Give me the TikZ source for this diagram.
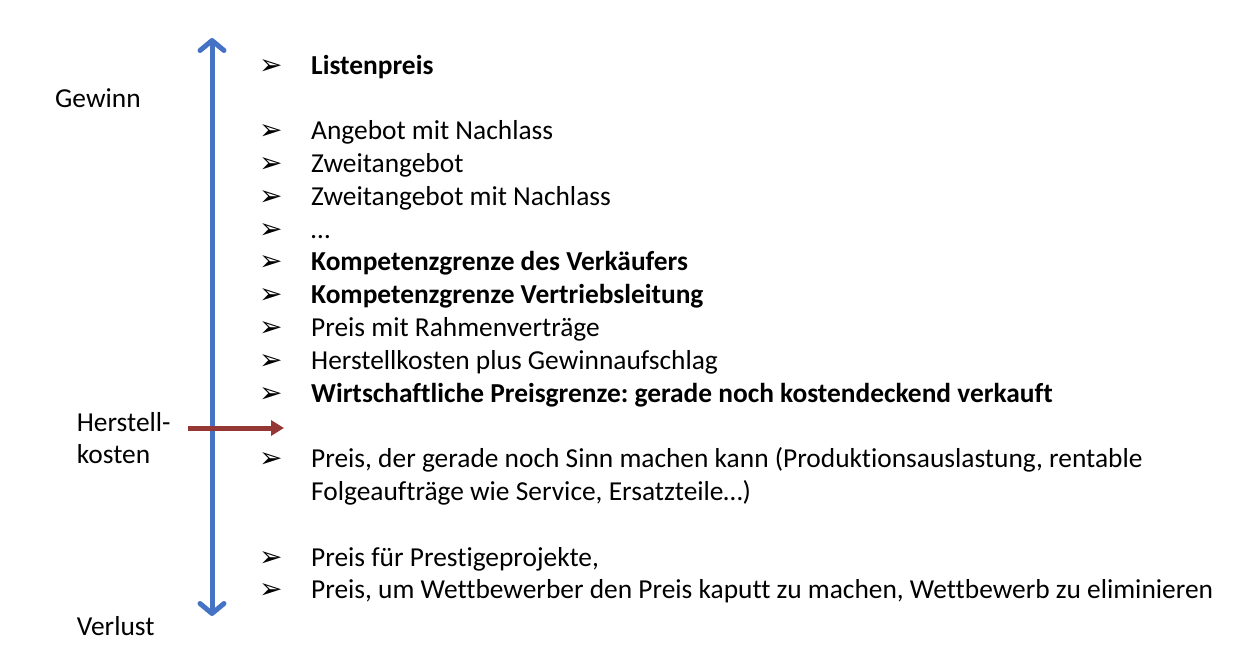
\documentclass[tikz,border=0pt]{standalone}
\usepackage{fontspec}
\setmainfont[Ligatures={NoCommon}]{Carlito}
\newfontfamily\symfont{DejaVu Sans}
\usetikzlibrary{
    calc,
    arrows.meta
}
\definecolor{axisblue}{HTML}{4472C4}
\definecolor{costred}{HTML}{953735}
\frenchspacing

\begin{document}
\begin{tikzpicture}[x=1pt,y=-1pt,
    txt/.style={anchor=base west,inner sep=0pt,font=\fontsize{27.4}{32.8}\selectfont},
    bul/.style={anchor=base west,inner sep=0pt,font=\symfont\fontsize{28}{32}\selectfont},
  ]
  \useasboundingbox (0,0) rectangle (1254,657);
  % left labels
  \node[txt] (gewinn) at (55,107.5) {Gewinn};
  \node[txt] (herst) at (76.7,431.7) {Herstell-};
  \node[txt] (kosten) at (76.7,463.3) {kosten};
  \node[txt] (verlust) at (76.7,635) {Verlust};
  % price list, one line = 32.8
  \foreach \k/\f/\t in {
      0/\bfseries/Listenpreis,
      2/\mdseries/Angebot mit Nachlass,
      3/\mdseries/Zweitangebot,
      4/\mdseries/Zweitangebot mit Nachlass,
      5/\mdseries/\dots,
      6/\bfseries/Kompetenzgrenze des Verkäufers,
      7/\bfseries/Kompetenzgrenze Vertriebsleitung,
      8/\mdseries/Preis mit Rahmenverträge,
      9/\mdseries/Herstellkosten plus Gewinnaufschlag,
      10/\bfseries/{Wirtschaftliche Preisgrenze: gerade noch kostendeckend verkauft},
      12/\mdseries/{Preis, der gerade noch Sinn machen kann (Produktionsauslastung, rentable},
      15/\mdseries/{Preis für Prestigeprojekte,},
      16/\mdseries/{Preis, um Wettbewerber den Preis kaputt zu machen, Wettbewerb zu eliminieren}}
  {
    \node[bul] (b\k) at (259,74+32.8*\k) {➢};
    \node[txt,font=\fontsize{27.4}{32.8}\selectfont\f] (p\k) at (311,74+32.8*\k) {\t};
  }
  \node[txt] (p13) at (311,74+32.8*13) {Folgeaufträge wie Service, Ersatzteile\dots)};
  % axis and cost marker
  \coordinate (top) at (212,38);
  \coordinate (bot) at (212,616);
  \draw[axisblue,line width=5pt,{Straight Barb[length=10pt,width=24pt,round]}-{Straight Barb[length=10pt,width=24pt,round]}] (top) -- (bot);
  \coordinate (hk) at (188,428);
  \coordinate (hktip) at (284,428);
  \draw[costred,line width=5pt,-{Triangle[length=13pt,width=15pt]}] (hk) -- (hktip);
\end{tikzpicture}
\end{document}
